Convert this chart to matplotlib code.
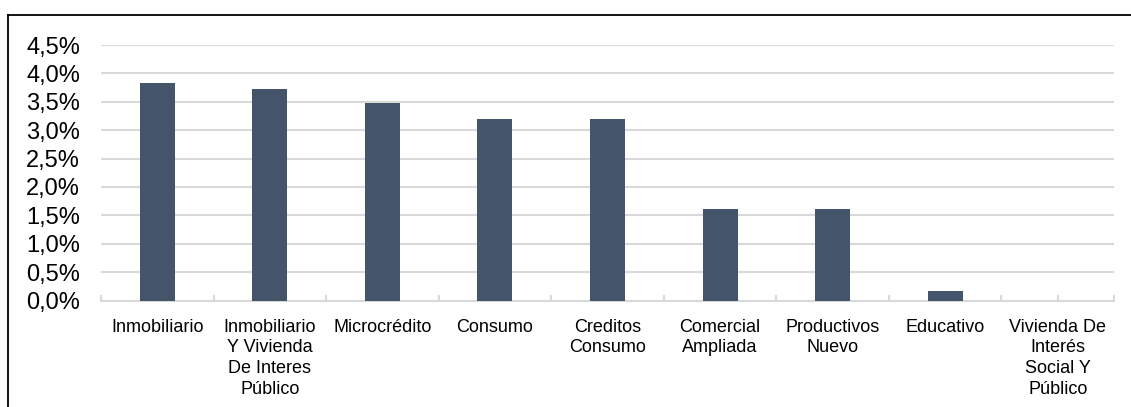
import matplotlib.pyplot as plt
from matplotlib.lines import Line2D
from matplotlib.ticker import FuncFormatter, MultipleLocator
import numpy as np

plt.rcParams['font.family'] = ['Liberation Sans', 'DejaVu Sans']

# tasas por tipo de crédito (%)
categorias = ['Inmobiliario', 'Inmobiliario\nY Vivienda\nDe Interes\nPúblico', 'Microcrédito',
              'Consumo', 'Creditos\nConsumo', 'Comercial\nAmpliada', 'Productivos\nNuevo',
              'Educativo', 'Vivienda De\nInterés\nSocial Y\nPúblico']
tasas = [3.83, 3.72, 3.47, 3.19, 3.19, 1.61, 1.61, 0.17, 0.0]

W, H = 1131, 407
fig = plt.figure(figsize=(W / 100, H / 100), dpi=100)
ax = fig.add_axes([101 / W, (H - 300.5) / H, (1114 - 101) / W, (300.5 - 45) / H])

x = np.arange(len(categorias))
ax.bar(x, tasas, width=0.31, color='#44546A', zorder=3)

ax.set_xlim(-0.5, len(categorias) - 0.5)
ax.set_ylim(0, 4.5)
ax.yaxis.set_major_locator(MultipleLocator(0.5))
ax.yaxis.set_major_formatter(FuncFormatter(lambda v, p: f'{v:.1f}%'.replace('.', ',')))
ax.grid(axis='y', color='#D9D9D9', linewidth=1.5, zorder=0)

ax.set_xticks(x)
ax.set_xticklabels(categorias, fontsize=13, linespacing=1.3)
ax.set_xticks(np.arange(-0.5, len(categorias)), minor=True)
ax.tick_params(axis='x', which='both', direction='in', length=4, color='#D9D9D9', width=1.5, pad=13)
ax.tick_params(axis='y', length=0, labelsize=17, pad=15)

for s in ['top', 'right', 'left']:
    ax.spines[s].set_visible(False)
ax.spines['bottom'].set_color('#D9D9D9')
ax.spines['bottom'].set_linewidth(1.5)

# marco superior e izquierdo
fig.add_artist(Line2D([8 / W, 8 / W], [0, 1 - 15 / H], transform=fig.transFigure, color='black', linewidth=1.3))
fig.add_artist(Line2D([8 / W, 1], [1 - 15 / H, 1 - 15 / H], transform=fig.transFigure, color='black', linewidth=1.3))

fig.savefig('out.png', dpi=100)
